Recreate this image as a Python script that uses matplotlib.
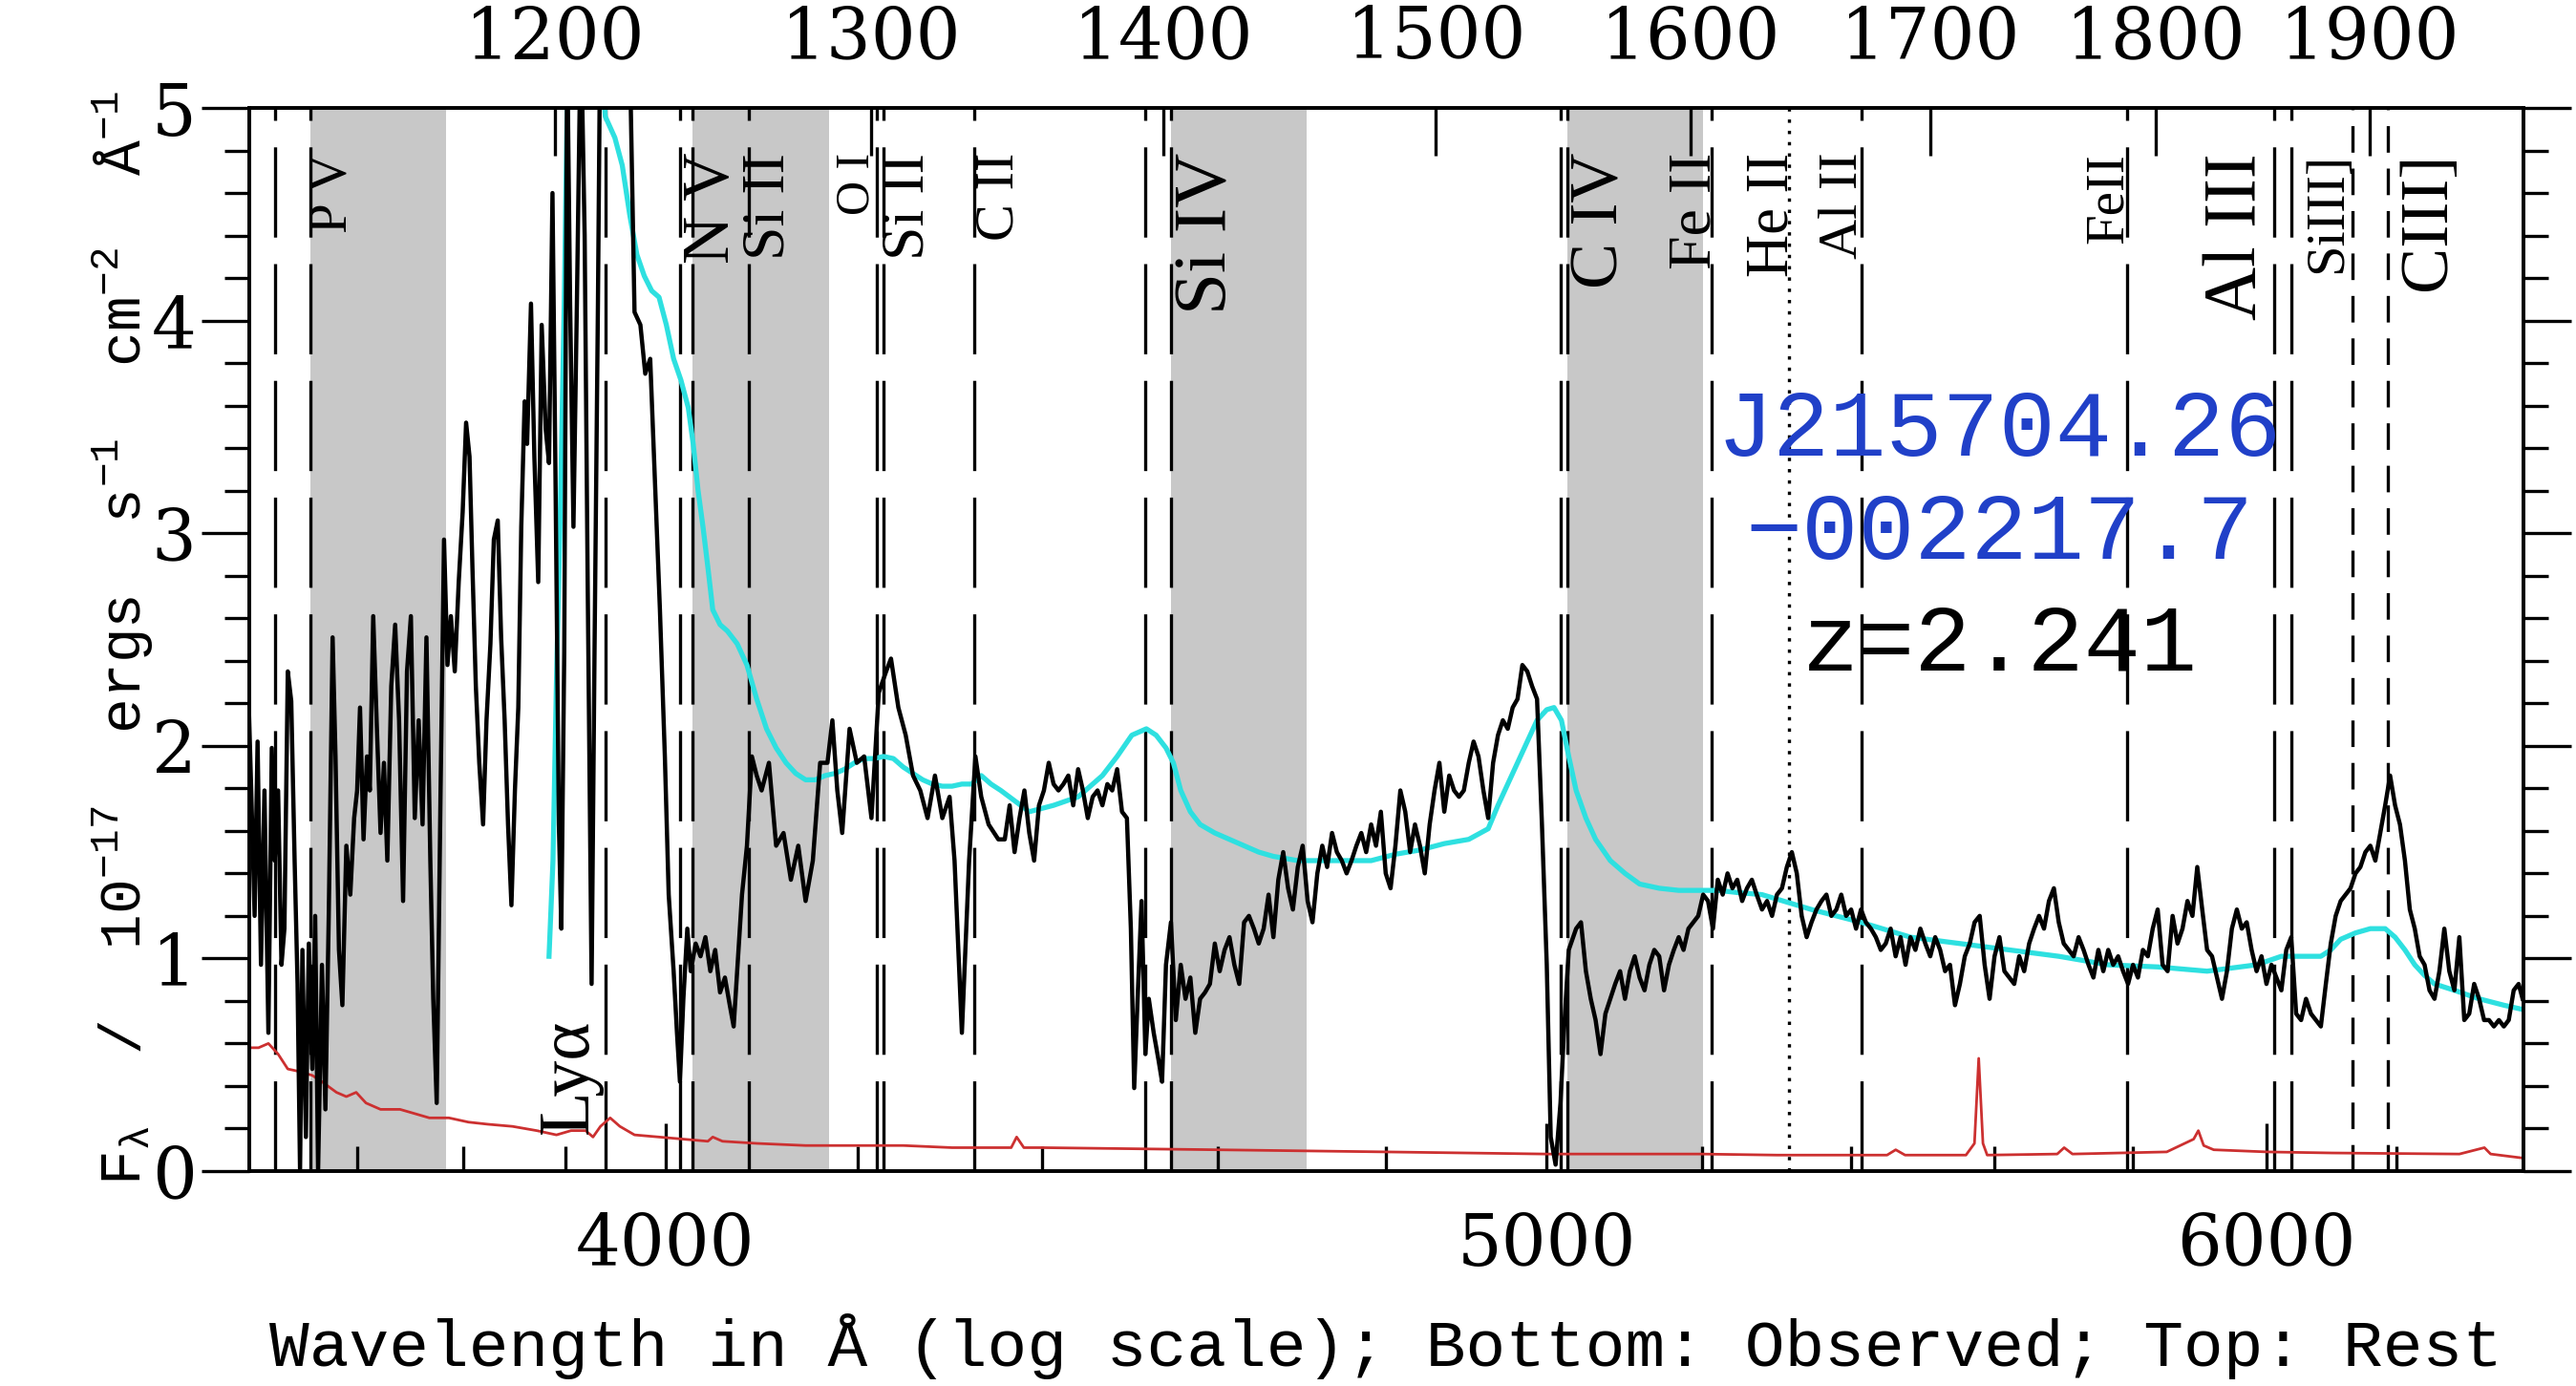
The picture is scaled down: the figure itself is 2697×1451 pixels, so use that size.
import numpy as np
import matplotlib
matplotlib.use('Agg')
import matplotlib.pyplot as plt
from matplotlib.ticker import MultipleLocator, NullFormatter, NullLocator
import matplotlib.transforms as mtransforms

plt.rcParams['font.family'] = ['Liberation Serif', 'DejaVu Serif']
plt.rcParams['mathtext.fontset'] = 'custom'
plt.rcParams['mathtext.rm'] = 'Liberation Mono'
plt.rcParams['mathtext.it'] = 'Liberation Mono'
plt.rcParams['lines.scale_dashes'] = False

# ---------------- data ----------------
z = 2.241
obj_name = ['J215704.26', '\u2212002217.7']
obj_z = 'z=2.241'

black_wave = [3595.0, 3598.6, 3601.7, 3604.8, 3607.5, 3610.6, 3613.8, 3617.4, 3620.5, 3623.2,
              3626.3, 3629.4, 3632.1, 3635.2, 3638.4, 3641.5, 3644.2, 3646.5, 3648.7, 3651.9,
              3654.6, 3657.8, 3660.5, 3663.2, 3666.8, 3670.0, 3673.1, 3676.7, 3679.4, 3682.6,
              3685.8, 3689.5, 3693.2, 3696.8, 3699.6, 3702.3, 3705.6, 3708.8, 3711.5, 3714.7,
              3717.9, 3721.6, 3724.8, 3728.0, 3731.7, 3735.4, 3739.1, 3742.9, 3746.6, 3750.3,
              3754.0, 3757.7, 3761.4, 3765.1, 3768.8, 3771.6, 3774.9, 3778.6, 3781.9, 3785.2,
              3788.5, 3792.2, 3796.0, 3799.8, 3803.1, 3806.4, 3809.2, 3812.5, 3815.8, 3819.5,
              3822.8, 3826.6, 3829.9, 3833.7, 3837.0, 3840.4, 3843.7, 3847.0, 3850.4, 3853.7,
              3856.6, 3859.9, 3862.3, 3866.1, 3869.4, 3873.2, 3876.6, 3880.5, 3883.8, 3887.2,
              3890.1, 3893.5, 3895.9, 3898.8, 3901.7, 3904.6, 3907.9, 3911.3, 3915.2, 3919.0,
              3922.0, 3925.9, 3928.8, 3932.2, 3934.7, 3949.1, 3963.9, 3968.8, 3974.7, 3979.6,
              3984.6, 3989.5, 3994.4, 3999.4, 4003.3, 4008.3, 4011.7, 4014.7, 4018.2, 4022.2,
              4025.7, 4030.7, 4035.7, 4040.7, 4045.7, 4050.7, 4055.7, 4060.7, 4065.7, 4069.7,
              4073.3, 4078.3, 4083.4, 4088.5, 4093.5, 4098.6, 4106.2, 4113.7, 4121.4, 4129.1,
              4136.8, 4144.5, 4152.1, 4159.8, 4167.5, 4172.7, 4177.9, 4183.1, 4190.9, 4198.6,
              4206.4, 4214.2, 4222.0, 4229.9, 4235.1, 4243.0, 4250.9, 4258.8, 4266.6, 4274.5,
              4282.5, 4290.5, 4298.4, 4303.8, 4311.8, 4319.7, 4326.6, 4333.0, 4341.1, 4351.8,
              4358.9, 4364.3, 4369.7, 4375.2, 4380.6, 4386.0, 4391.4, 4396.8, 4402.3, 4407.7,
              4413.1, 4418.6, 4424.1, 4429.6, 4435.1, 4440.6, 4446.0, 4451.5, 4457.0, 4462.5,
              4468.0, 4473.6, 4479.1, 4484.7, 4490.2, 4495.8, 4500.3, 4504.1, 4508.0, 4512.5,
              4516.9, 4520.8, 4526.4, 4532.0, 4536.0, 4540.5, 4546.2, 4551.8, 4557.5, 4563.0,
              4568.6, 4574.3, 4579.9, 4585.6, 4591.3, 4597.0, 4602.7, 4608.4, 4614.1, 4619.8,
              4625.5, 4631.2, 4636.9, 4642.7, 4648.4, 4654.2, 4660.0, 4665.7, 4671.5, 4677.3,
              4683.1, 4688.8, 4694.6, 4700.4, 4706.3, 4712.1, 4717.9, 4723.8, 4729.6, 4735.5,
              4741.3, 4747.2, 4753.0, 4758.9, 4764.8, 4770.7, 4776.6, 4782.6, 4788.5, 4794.4,
              4800.3, 4806.2, 4812.1, 4818.1, 4824.1, 4830.1, 4836.0, 4842.1, 4848.0, 4854.0,
              4860.0, 4866.0, 4872.0, 4878.1, 4884.1, 4890.2, 4896.2, 4902.3, 4908.3, 4914.4,
              4920.5, 4926.5, 4932.6, 4938.7, 4944.8, 4951.0, 4957.1, 4963.2, 4969.3, 4975.5,
              4981.6, 4987.8, 4994.0, 5000.1, 5005.1, 5011.3, 5017.5, 5021.8, 5028.0, 5037.4,
              5043.6, 5049.9, 5056.1, 5062.3, 5068.6, 5074.9, 5081.2, 5087.5, 5093.8, 5100.1,
              5106.4, 5112.7, 5119.0, 5125.4, 5131.7, 5138.1, 5144.5, 5150.8, 5157.2, 5163.6,
              5170.0, 5176.3, 5182.7, 5189.2, 5195.6, 5202.1, 5208.5, 5215.0, 5221.4, 5227.9,
              5234.3, 5240.8, 5247.2, 5253.7, 5260.1, 5266.6, 5273.1,
              5280.2, 5286.9, 5293.6, 5300.2, 5306.9, 5313.5, 5320.2, 5326.9, 5333.5, 5340.2,
              5346.8, 5353.5, 5360.3, 5367.0, 5373.7, 5380.5, 5387.2, 5393.9, 5400.7, 5407.4,
              5414.2, 5420.9, 5427.8, 5434.6, 5441.4, 5448.2, 5455.0, 5461.9, 5468.7, 5475.6,
              5482.4, 5489.3, 5496.2, 5503.1, 5510.0, 5516.9, 5523.8, 5530.7, 5537.6, 5544.6,
              5551.5, 5558.4, 5565.4, 5572.2, 5579.4, 5586.4, 5593.4, 5600.4, 5607.4, 5614.4,
              5621.4, 5628.4, 5635.5, 5642.6, 5649.7, 5656.8, 5663.9, 5671.0, 5678.1, 5685.2,
              5692.2, 5699.4, 5706.5, 5713.7, 5720.9, 5728.1, 5735.3, 5742.4, 5749.6, 5756.8,
              5764.0, 5771.2, 5778.5, 5785.7, 5793.0, 5800.3, 5807.5, 5814.8, 5822.1, 5829.3,
              5836.6, 5843.9, 5851.3, 5858.7, 5866.0, 5873.4, 5880.8, 5888.2, 5895.4, 5902.8,
              5910.1, 5917.5, 5925.0, 5932.4, 5939.9, 5947.3, 5954.8, 5962.2, 5969.7, 5977.1,
              5984.6, 5992.1, 5999.6, 6007.2, 6014.7, 6022.3, 6029.8, 6037.4, 6044.9, 6052.5,
              6060.0, 6067.6, 6075.2, 6082.8, 6090.5, 6098.1, 6105.7, 6113.4, 6121.0, 6128.7,
              6136.4, 6144.0, 6151.8, 6159.5, 6167.3, 6175.0, 6182.7, 6190.4, 6198.2, 6205.9,
              6213.7, 6221.4, 6229.2, 6236.9, 6244.7, 6252.5, 6260.4, 6268.2, 6276.0, 6283.9,
              6292.0, 6299.9, 6307.8, 6315.7, 6323.6, 6331.5, 6339.5, 6347.4, 6355.3, 6363.3,
              6371.3, 6379.2, 6387.2, 6395.2, 6401.6]
black_flux = [1.63, 2.35, 1.79, 1.20, 2.02, 0.97, 1.79, 0.65, 1.99, 1.46,
              1.79, 0.97, 1.14, 2.35, 2.21, 1.46, 0.88, 0.00, 1.04, 0.16,
              1.07, 0.48, 1.20, 0.00, 0.97, 0.29, 1.20, 2.51, 1.95, 1.04,
              0.78, 1.53, 1.30, 1.66, 1.79, 2.18, 1.56, 1.95, 1.79, 2.61,
              2.12, 1.59, 1.92, 1.46, 2.28, 2.57, 2.12, 1.27, 2.35, 2.61,
              1.66, 2.12, 1.63, 2.51, 1.46, 0.81, 0.32, 1.79, 2.97, 2.38,
              2.61, 2.35, 2.77, 3.10, 3.52, 3.36, 2.84, 2.28, 1.92, 1.63,
              2.12, 2.48, 2.97, 3.06, 2.51, 2.12, 1.63, 1.25, 1.79, 2.18,
              3.03, 3.62, 3.42, 4.08, 3.36, 2.77, 3.98, 3.49, 3.33, 4.60,
              3.29, 1.63, 1.14, 2.44, 5.30, 4.08, 3.03, 4.08, 5.40, 4.40,
              2.77, 0.88, 2.44, 4.08, 5.50, 5.80, 5.30, 4.04, 3.98, 3.75,
              3.82, 3.23, 2.64, 1.95, 1.30, 0.94, 0.65, 0.42, 0.81, 1.14,
              0.94, 1.07, 1.01, 1.10, 0.94, 1.04, 0.84, 0.91, 0.78, 0.68,
              0.94, 1.30, 1.53, 1.95, 1.86, 1.79, 1.92, 1.53, 1.59, 1.37,
              1.53, 1.27, 1.46, 1.92, 1.92, 2.12, 1.79, 1.59, 2.08, 1.92,
              1.95, 1.66, 2.25, 2.35, 2.41, 2.18, 2.05, 1.86, 1.79, 1.66,
              1.86, 1.66, 1.76, 1.46, 0.65, 1.46, 1.95, 1.76, 1.63, 1.56,
              1.56, 1.72, 1.50, 1.66, 1.79, 1.59, 1.46, 1.72, 1.79, 1.92,
              1.82, 1.79, 1.82, 1.86, 1.72, 1.89, 1.79, 1.66, 1.76, 1.79,
              1.72, 1.82, 1.79, 1.89, 1.69, 1.66, 1.14, 0.39, 0.81, 1.27,
              0.55, 0.81, 0.65, 0.52, 0.42, 0.97, 1.17, 0.71, 0.97, 0.81,
              0.91, 0.65, 0.81, 0.84, 0.88, 1.07, 0.94, 1.04, 1.10, 0.97,
              0.88, 1.17, 1.20, 1.14, 1.07, 1.14, 1.30, 1.10, 1.37, 1.50,
              1.33, 1.23, 1.43, 1.53, 1.27, 1.17, 1.40, 1.53, 1.43, 1.59,
              1.50, 1.46, 1.40, 1.46, 1.53, 1.59, 1.50, 1.63, 1.53, 1.69,
              1.40, 1.33, 1.53, 1.79, 1.69, 1.50, 1.63, 1.53, 1.40, 1.63,
              1.79, 1.92, 1.69, 1.86, 1.79, 1.76, 1.79, 1.92, 2.02, 1.95,
              1.79, 1.66, 1.92, 2.05, 2.12, 2.08, 2.18, 2.22, 2.38, 2.35,
              2.28, 2.22, 1.63, 0.97, 0.16, 0.03, 0.32, 0.65, 1.04, 1.14,
              1.17, 0.94, 0.81, 0.71, 0.55, 0.74, 0.81, 0.88, 0.94, 0.81,
              0.94, 1.01, 0.91, 0.85, 0.97, 1.04, 1.01, 0.85, 0.97, 1.04,
              1.10, 1.04, 1.14, 1.17, 1.20, 1.30, 1.27, 1.14, 1.37, 1.30,
              1.40, 1.33, 1.37, 1.27, 1.33, 1.37, 1.30,
              1.23, 1.27, 1.20, 1.30, 1.33, 1.43, 1.50, 1.40, 1.20, 1.10,
              1.17, 1.23, 1.27, 1.30, 1.20, 1.23, 1.30, 1.20, 1.23, 1.14,
              1.23, 1.17, 1.14, 1.10, 1.04, 1.07, 1.14, 1.01, 1.10, 0.97,
              1.10, 1.04, 1.14, 1.07, 1.01, 1.10, 1.04, 0.94, 0.97, 0.78,
              0.88, 1.01, 1.07, 1.17, 1.20, 0.97, 0.81, 1.01, 1.10, 0.94,
              0.91, 0.88, 1.01, 0.94, 1.07, 1.14, 1.20, 1.14, 1.27, 1.33,
              1.17, 1.07, 1.04, 1.01, 1.10, 1.04, 0.97, 0.91, 1.04, 0.94,
              1.04, 0.97, 1.01, 0.94, 0.88, 0.97, 0.91, 1.04, 1.01, 1.14,
              1.23, 0.97, 0.94, 1.20, 1.07, 1.14, 1.27, 1.20, 1.43, 1.23,
              1.04, 1.01, 0.91, 0.81, 0.94, 1.14, 1.23, 1.14, 1.17, 1.04,
              0.94, 1.01, 0.88, 0.97, 0.91, 0.85, 1.04, 1.10, 0.74, 0.71,
              0.81, 0.74, 0.71, 0.68, 0.88, 1.07, 1.20, 1.27, 1.30, 1.33,
              1.40, 1.43, 1.50, 1.53, 1.46, 1.59, 1.72, 1.86, 1.72, 1.63,
              1.46, 1.23, 1.14, 1.01, 0.97, 0.85, 0.81, 0.94, 1.14, 0.94,
              0.85, 1.10, 0.71, 0.74, 0.88, 0.81, 0.71, 0.71, 0.68, 0.71,
              0.68, 0.71, 0.85, 0.88, 0.81]

comp_wave = [3883.8, 3887.7, 3891.0, 3894.9, 3898.8, 3902.6, 3920.0, 3935.0, 3939.5, 3949.1,
             3956.5, 3963.9, 3971.2, 3978.6, 3986.1, 3993.5, 4000.9, 4008.3, 4015.7, 4023.2,
             4028.2, 4033.2, 4038.2, 4043.2, 4048.2, 4055.7, 4063.2, 4073.3, 4083.4, 4093.5,
             4103.7, 4113.7, 4124.0, 4134.2, 4144.5, 4154.7, 4165.0, 4175.3, 4185.7, 4196.1,
             4206.4, 4216.8, 4227.2, 4237.7, 4248.2, 4258.8, 4269.3, 4279.8, 4290.5, 4301.1,
             4311.8, 4322.4, 4333.0, 4343.7, 4354.5, 4386.0, 4413.1, 4440.6, 4468.0, 4484.7,
             4501.4, 4518.0, 4529.2, 4540.5, 4549.0, 4557.5, 4568.6, 4579.9, 4597.0, 4614.1,
             4631.2, 4648.4, 4665.7, 4694.6, 4723.8, 4753.0, 4782.6, 4812.1, 4842.1, 4872.0,
             4902.3, 4926.5, 4938.7, 4951.0, 4963.2, 4975.5, 4987.8, 5000.1, 5009.3, 5018.7,
             5028.0, 5037.4, 5049.9, 5062.3, 5081.2, 5100.1, 5119.0, 5144.5, 5170.0, 5195.6,
             5221.4, 5247.2, 5280.2, 5346.8, 5414.2, 5482.4, 5551.5, 5621.4, 5692.2, 5764.0,
             5836.6, 5910.1, 5984.6, 6022.3, 6060.0, 6082.8, 6098.1, 6113.4, 6136.4, 6159.5,
             6182.7, 6198.2, 6213.7, 6229.2, 6244.7, 6260.4, 6292.0, 6331.5, 6371.3, 6401.6]
comp_flux = [1.01, 1.46, 2.28, 3.10, 4.08, 5.30, 5.60, 5.30, 4.96, 4.86,
             4.73, 4.50, 4.31, 4.21, 4.14, 4.11, 3.98, 3.82, 3.72, 3.59,
             3.42, 3.20, 3.03, 2.84, 2.64, 2.57, 2.54, 2.48, 2.38, 2.22,
             2.08, 1.99, 1.92, 1.87, 1.84, 1.84, 1.86, 1.87, 1.89, 1.92,
             1.94, 1.94, 1.95, 1.94, 1.90, 1.87, 1.84, 1.82, 1.81, 1.81,
             1.82, 1.82, 1.86, 1.82, 1.79, 1.69, 1.72, 1.76, 1.86, 1.95,
             2.05, 2.08, 2.05, 1.99, 1.92, 1.79, 1.69, 1.63, 1.59, 1.56,
             1.53, 1.50, 1.48, 1.46, 1.46, 1.46, 1.46, 1.49, 1.51, 1.54,
             1.56, 1.61, 1.72, 1.82, 1.92, 2.02, 2.12, 2.17, 2.18, 2.12,
             1.95, 1.79, 1.66, 1.56, 1.46, 1.40, 1.35, 1.33, 1.32, 1.32,
             1.32, 1.31, 1.30, 1.23, 1.17, 1.10, 1.07, 1.04, 1.01, 0.97,
             0.96, 0.94, 0.97, 1.01, 1.01, 1.01, 1.04, 1.09, 1.12, 1.14,
             1.14, 1.10, 1.04, 0.97, 0.92, 0.88, 0.85, 0.81, 0.78, 0.76]

err_wave = [3595.0, 3608.4, 3617.4, 3626.3, 3635.2, 3644.2, 3657.8, 3666.8, 3680.3, 3689.5,
            3698.7, 3707.9, 3721.6, 3740.0, 3754.0, 3767.9, 3786.6, 3805.4, 3824.2, 3848.0,
            3871.8, 3891.1, 3905.5, 3920.0, 3927.3, 3934.7, 3944.4, 3954.1, 3968.8, 3993.5,
            4018.2, 4043.2, 4048.2, 4058.2, 4093.5, 4144.5, 4196.1, 4248.2, 4301.1, 4354.5,
            4366.0, 4372.0, 4380.0, 4400.0, 4600.0, 4800.0, 5000.0, 5200.0, 5300.0, 5450.0,
            5462.0, 5475.0, 5560.0, 5572.0, 5578.0, 5584.0, 5590.0, 5690.0, 5700.0, 5712.0,
            5850.0, 5890.0, 5897.0, 5905.0, 5920.0, 6000.0, 6100.0, 6300.0, 6340.0, 6350.0,
            6405.0]
err_flux = [0.58, 0.58, 0.60, 0.55, 0.48, 0.47, 0.45, 0.42, 0.37, 0.35,
            0.37, 0.32, 0.29, 0.29, 0.27, 0.25, 0.25, 0.23, 0.22, 0.21,
            0.19, 0.17, 0.19, 0.19, 0.16, 0.21, 0.25, 0.21, 0.17, 0.16,
            0.15, 0.14, 0.16, 0.14, 0.13, 0.12, 0.12, 0.12, 0.11, 0.11,
            0.11, 0.16, 0.11, 0.11, 0.10, 0.09, 0.08, 0.08, 0.075, 0.075,
            0.10, 0.075, 0.075, 0.13, 0.53, 0.13, 0.075, 0.08, 0.11, 0.08,
            0.09, 0.15, 0.19, 0.12, 0.10, 0.09, 0.085, 0.08, 0.11, 0.08,
            0.06]

# absorption-trough bands (rest wavelength, Angstrom)
band_lo = [1128.0, 1242.8, 1402.8, 1550.8]
band_hi = [1167.5, 1286.3, 1451.9, 1605.1]

# marked transitions (rest wavelength, Angstrom)
line_names = ['P V', 'N V', 'Si II', 'O I', 'Si II', 'C II', 'Si IV', 'C IV',
              'Fe II', 'He II', 'Al II', 'FeII', 'Al III', 'SiIII]', 'CIII]', 'Ly\u03b1']
line_waves = [[1117.98, 1128.01], [1238.82, 1242.80], [1260.42], [1302.17], [1304.37],
              [1334.53], [1393.76, 1402.77], [1548.20, 1550.77], [1608.45], [1640.42],
              [1670.79], [1787.0], [1854.72, 1862.79], [1892.03], [1908.73], [1215.67]]

obs_ticks = [4000, 5000, 6000]
obs_minor = [3700, 3800, 3900, 4200, 4400, 4600, 4800, 5200, 5400, 5600, 5800, 6200]
rest_ticks = [1200, 1300, 1400, 1500, 1600, 1700, 1800, 1900]

# ---------------- styles ----------------
# label offset from the line (points; + right of the reddest line, - left of the bluest)
label_off = [17, 15, 16, -15, 19, 19, 28, 25, -12, -12, -14, -14, -28, -19, 31, -27]
label_size = [41, 50, 46, 36, 46, 42, 57, 52, 46, 45, 42, 41, 56, 42, 52, 55]
line_style = ['long'] * 9 + ['dot', 'long', 'long', 'long', 'short', 'short', 'long']
dash_map = {'long': (0, (68, 20)), 'short': (0, (20, 12)), 'dot': (0, (2.5, 6))}
tick_font = 'DejaVu Serif'

# ---------------- figure ----------------
fig = plt.figure(figsize=(26.97, 14.51), dpi=100)
ax = fig.add_axes([0.0968, 0.1551, 0.8828, 0.7670])
ax.set_xscale('log')
xmin, xmax = 3600, 6403
ax.set_xlim(xmin, xmax)
ax.set_ylim(0, 5)

for lo, hi in zip(band_lo, band_hi):
    ax.axvspan(lo * (1 + z), hi * (1 + z), color='#c8c8c8', lw=0, zorder=0)

for waves, sty in zip(line_waves, line_style):
    for w in waves:
        ax.axvline(w * (1 + z), ymin=0, ymax=1, color='k', lw=2.4,
                   linestyle=dash_map[sty], zorder=1)

ax.plot(err_wave, err_flux, color='#cc3030', lw=2.0, zorder=2)
ax.plot(comp_wave, comp_flux, color='#2ee0e0', lw=3.8, zorder=2)
ax.plot(black_wave, black_flux, color='k', lw=3.2, zorder=3)

# line labels
for name, waves, off, size in zip(line_names, line_waves, label_off, label_size):
    ref = waves[-1] if off > 0 else waves[0]
    trans = mtransforms.offset_copy(ax.get_xaxis_transform(), fig=fig, x=off, y=0, units='points')
    if name.startswith('Ly'):
        ax.text(ref * (1 + z), 0.035, name, rotation=90, ha='center', va='bottom',
                fontsize=size, transform=trans, zorder=4)
    else:
        ax.text(ref * (1 + z), 0.958, name, rotation=90, ha='center', va='top',
                fontsize=size, transform=trans, zorder=4)

# object name / redshift
ax.text(0.7696, 0.696, obj_name[0], transform=ax.transAxes, ha='center', va='center',
        fontsize=71, family='Liberation Mono', color='#2040c8', zorder=5)
ax.text(0.7696, 0.599, obj_name[1], transform=ax.transAxes, ha='center', va='center',
        fontsize=71, family='Liberation Mono', color='#2040c8', zorder=5)
ax.text(0.7696, 0.494, obj_z, transform=ax.transAxes, ha='center', va='center',
        fontsize=71, family='Liberation Mono', color='k', zorder=5)

# bottom axis
ax.set_xticks(obs_ticks, labels=[str(t) for t in obs_ticks])
ax.set_xticks(obs_minor, minor=True)
ax.xaxis.set_minor_formatter(NullFormatter())
ax.tick_params(axis='x', which='both', direction='in', bottom=True, top=False, width=2.4)
ax.tick_params(axis='x', which='major', length=36, pad=30, labelsize=53)
ax.tick_params(axis='x', which='minor', length=19)

# y axis
ax.yaxis.set_major_locator(MultipleLocator(1))
ax.yaxis.set_minor_locator(MultipleLocator(0.2))
ax.tick_params(axis='y', which='both', direction='out', left=True, right=True,
               labelleft=True, labelright=False, width=2.4)
ax.tick_params(axis='y', which='major', length=36, pad=4, labelsize=53)
ax.tick_params(axis='y', which='minor', length=19)

# top axis (rest frame)
ax2 = ax.twiny()
ax2.set_xscale('log')
ax2.set_xlim(xmin / (1 + z), xmax / (1 + z))
ax2.set_xticks(rest_ticks, labels=[str(t) for t in rest_ticks])
ax2.xaxis.set_minor_locator(NullLocator())
ax2.tick_params(axis='x', which='major', direction='in', length=36, width=2.4,
                pad=26, labelsize=53)

for lab in ax.get_xticklabels() + ax.get_yticklabels() + ax2.get_xticklabels():
    lab.set_family(tick_font)

for a in (ax, ax2):
    for sp in a.spines.values():
        sp.set_linewidth(2.6)

fig.text(1451 / 2697, 1 - 1410 / 1451,
         'Wavelength in \u00c5 (log scale); Bottom: Observed; Top: Rest',
         ha='center', va='center', fontsize=50, family='Liberation Mono')
ylab = (r'F$_{\lambda}$  /  10$^{-17}$  ergs  s$^{-1}$  cm$^{-2}$  ' + '\u00c5' + r'$^{-1}$')
fig.text(129 / 2697, 1 - 668 / 1451, ylab,
         rotation=90, ha='center', va='center', fontsize=44, family='Liberation Mono')

fig.savefig('out.png', dpi=100)
